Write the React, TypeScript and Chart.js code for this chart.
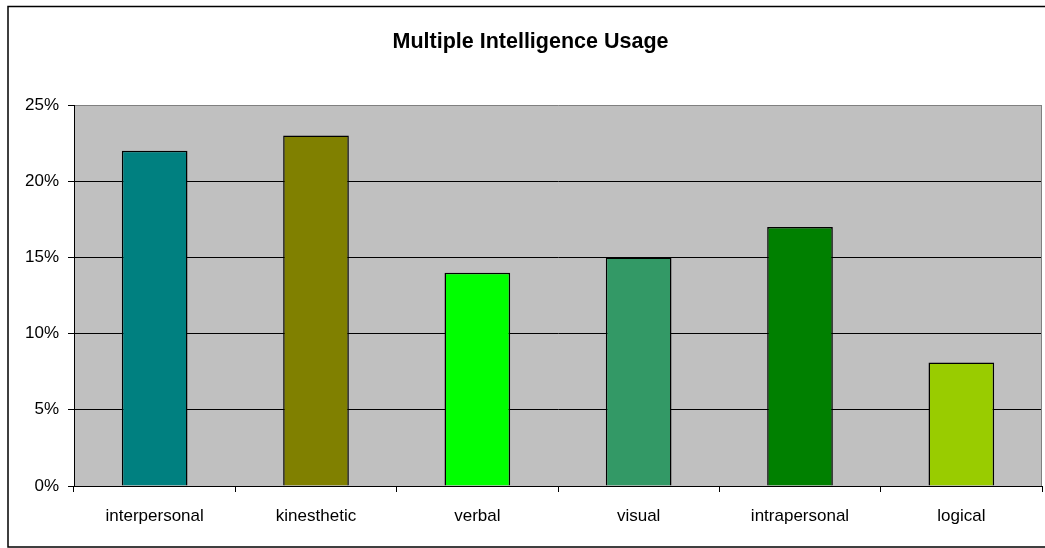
import React, { useEffect, useRef } from "react";
import { Chart, registerables } from "chart.js";

Chart.register(...registerables);

const chartTitle = "Multiple Intelligence Usage";
const categories = ["interpersonal", "kinesthetic", "verbal", "visual", "intrapersonal", "logical"];
const usage = [22, 23, 14, 15, 17, 8.1];
const barColors = ["#008080", "#808000", "#00FF00", "#339966", "#008000", "#99CC00"];
const yMin = 0;
const yMax = 25;
const yStep = 5;

const FONT = "'Liberation Sans', Arial, sans-serif";

const framePlugin = {
  id: "frame",
  beforeDraw(chart: any) {
    const { ctx, chartArea } = chart;
    ctx.save();
    ctx.fillStyle = "#FFFFFF";
    ctx.fillRect(0, 0, chart.width, chart.height);
    ctx.fillStyle = "#C0C0C0";
    ctx.fillRect(chartArea.left, chartArea.top, chartArea.right - chartArea.left, chartArea.bottom - chartArea.top);
    ctx.restore();
  },
  afterDraw(chart: any) {
    const { ctx, chartArea } = chart;
    ctx.save();
    // right plot border
    ctx.strokeStyle = "#808080";
    ctx.lineWidth = 1;
    ctx.beginPath();
    ctx.moveTo(Math.round(chartArea.right) - 0.5, chartArea.top);
    ctx.lineTo(Math.round(chartArea.right) - 0.5, chartArea.bottom);
    ctx.stroke();
    // outer frame
    ctx.strokeStyle = "#000000";
    ctx.lineWidth = 1.5;
    ctx.strokeRect(8, 6.5, 1060, 540.5);
    // title
    ctx.fillStyle = "#000000";
    ctx.font = `bold 21.5px ${FONT}`;
    ctx.textAlign = "center";
    ctx.textBaseline = "alphabetic";
    ctx.fillText(chartTitle, 530.5, 47.5);
    ctx.restore();
  },
};

export default function App() {
  const canvasRef = useRef<HTMLCanvasElement | null>(null);

  useEffect(() => {
    if (!canvasRef.current) return;
    const chart = new Chart(canvasRef.current, {
      type: "bar",
      data: {
        labels: categories,
        datasets: [
          {
            label: "Usage",
            data: usage,
            backgroundColor: barColors,
            borderColor: "#000000",
            borderWidth: 1.5,
            inflateAmount: 0,
            categoryPercentage: 1,
            barPercentage: 0.407,
          },
        ],
      },
      options: {
        responsive: false,
        animation: false,
        layout: { padding: { top: 105, left: 0, right: 3, bottom: 0 } },
        plugins: {
          legend: { display: false },
          title: { display: false },
          tooltip: { enabled: false },
        },
        scales: {
          y: {
            min: yMin,
            max: yMax,
            ticks: {
              stepSize: yStep,
              callback: (v: any) => `${v}%`,
              color: "#000000",
              font: { family: FONT, size: 17 },
              padding: 9,
            },
            grid: {
              color: (ctx: any) => (ctx.tick && ctx.tick.value === yMax ? "#808080" : "#000000"),
              lineWidth: 1,
              tickLength: 6,
              tickColor: "#000000",
            },
            border: { color: "#000000", width: 1 },
            afterFit: (s: any) => {
              s.width = 74;
            },
          },
          x: {
            grid: {
              offset: true,
              drawOnChartArea: false,
              drawTicks: true,
              tickLength: 6,
              color: "#000000",
              tickColor: "#000000",
            },
            ticks: {
              color: "#000000",
              font: { family: FONT, size: 17 },
              padding: 14,
              maxRotation: 0,
              autoSkip: false,
            },
            border: { color: "#000000", width: 1 },
            afterFit: (s: any) => {
              s.height = 62;
            },
          },
        },
      },
      plugins: [framePlugin],
    });
    return () => chart.destroy();
  }, []);

  return (
    <div style={{ position: "absolute", left: 0, top: 0, width: 1045, height: 548, background: "#fff" }}>
      <canvas ref={canvasRef} width={1045} height={548} style={{ display: "block" }} />
    </div>
  );
}
